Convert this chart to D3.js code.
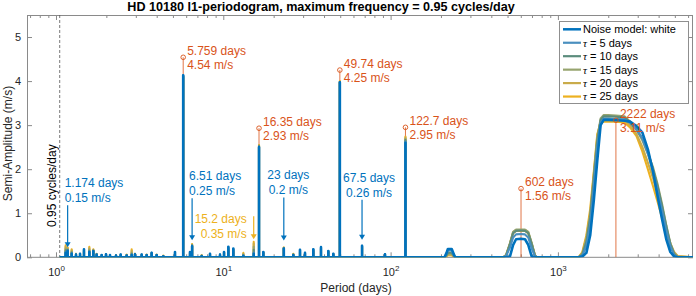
<!DOCTYPE html>
<html>
<head>
<meta charset="utf-8">
<script src="https://cdn.jsdelivr.net/npm/d3@7"></script>
<style>
  body { margin: 0; background: #fff; }
  text { font-family: "Liberation Sans", Arial, sans-serif; }
</style>
</head>
<body>
<div id="chart"></div>
<script>
// ---- data ----
const maxFreq = 0.95;
const xDomain = [0.671, 6420];
const yDomain = [0, 5.5];
const xTickValues = [1, 10, 100, 1000];
const yTickValues = [0, 1, 2, 3, 4, 5];

const seriesNames = ['Noise model: white', '5', '10', '15', '20', '25'];
const seriesColors = ['#0072BD', '#4a8fbf', '#5b8c7c', '#97a46f', '#c9ab4a', '#EDB120'];

// narrow peaks of the l1-periodogram (days)
const spikePeriods = [1.142, 1.174, 1.241, 1.317, 1.392, 1.47, 1.582, 1.672, 1.75, 1.875, 1.99, 2.103, 2.284, 2.436, 2.645, 2.834, 2.966, 3.252, 3.483, 3.731, 3.997, 4.381, 5.144,
  5.759, 6.324, 6.51, 7.427, 8.328, 9.557, 10.1, 10.72, 11.48, 13.18, 15.2,
  16.35, 17.35, 23.0, 26.22, 28.74, 30.79, 34.52, 38.37, 42.44, 45.47,
  49.74, 67.5, 92.6, 122.7];
const spikeWhite = [0.10,0.15,0.08,0.06,0.08,0.18,0.12,0.14,0.06,0.05,0.07,0.05,0.04,0.06,0.04,0.05,0.07,0.06,0.05,0.10,0.05,0.02,0.12,
  4.13, 0.12,0.25,0.03,0.08,0.06,0.12,0.24,0.20,0.03,0.08,
  2.50, 0.12,0.20,0.05,0.17,0.10,0.18,0.23,0.14,0.08,
  3.97, 0.26,0.07, 2.60];
const spikeTau5 = [0.12,0.16,0.09,0.06,0.08,0.17,0.13,0.14,0.06,0.05,0.07,0.05,0.04,0.06,0.04,0.06,0.07,0.06,0.05,0.10,0.05,0.02,0.12,
  4.13, 0.12,0.26,0.03,0.08,0.06,0.12,0.23,0.19,0.04,0.11,
  2.50, 0.12,0.20,0.05,0.17,0.10,0.18,0.22,0.14,0.08,
  3.97, 0.26,0.07, 2.63];
const spikeTau10 = [0.16,0.17,0.11,0.06,0.07,0.16,0.15,0.15,0.06,0.05,0.07,0.05,0.04,0.06,0.05,0.08,0.07,0.06,0.05,0.10,0.05,0.02,0.11,
  4.12, 0.11,0.27,0.03,0.07,0.06,0.12,0.22,0.18,0.05,0.17,
  2.52, 0.11,0.21,0.06,0.16,0.09,0.17,0.21,0.14,0.07,
  3.98, 0.26,0.07, 2.66];
const spikeTau15 = [0.20,0.19,0.13,0.07,0.07,0.15,0.18,0.16,0.07,0.04,0.06,0.04,0.05,0.05,0.05,0.11,0.08,0.05,0.05,0.09,0.05,0.03,0.09,
  4.11, 0.10,0.28,0.04,0.07,0.05,0.11,0.20,0.17,0.06,0.24,
  2.53, 0.10,0.21,0.06,0.14,0.08,0.15,0.20,0.13,0.07,
  3.98, 0.25,0.06, 2.69];
const spikeTau20 = [0.24,0.21,0.16,0.08,0.06,0.14,0.21,0.17,0.07,0.04,0.06,0.04,0.05,0.05,0.05,0.15,0.08,0.05,0.05,0.09,0.05,0.03,0.08,
  4.10, 0.09,0.29,0.04,0.06,0.05,0.11,0.18,0.15,0.08,0.31,
  2.54, 0.09,0.22,0.07,0.12,0.08,0.14,0.18,0.12,0.06,
  3.99, 0.24,0.06, 2.72];
const spikeTau25 = [0.27,0.22,0.18,0.08,0.05,0.12,0.24,0.18,0.08,0.03,0.05,0.03,0.05,0.04,0.06,0.18,0.08,0.04,0.06,0.08,0.06,0.04,0.06,
  4.10, 0.08,0.30,0.05,0.05,0.04,0.10,0.15,0.12,0.10,0.35,
  2.55, 0.08,0.22,0.08,0.10,0.06,0.12,0.15,0.10,0.05,
  4.00, 0.22,0.05, 2.74];

// broad features (~226 d, ~602 d, ~2222 d)
const humpPeriods = [210,216,220,226,232,237,243,
  470,490,517,540,562,600,636,665,697,730,750,
  1330,1400,1480,1560,1640,1720,1800,1880,2000,2222,2500,2700,2950,3200,3450,3700,3950,4200,4450,4700,4950,5200];
const humpWhite = [0,0.10,0.19,0.19,0.19,0.10,0,
  0,0,0.02,0.28,0.41,0.42,0.41,0.28,0.02,0,0,
  0,0.02,0.10,0.50,1.30,2.20,3.00,3.12,3.12,3.11,3.10,3.08,2.98,2.83,2.45,1.95,1.37,0.85,0.40,0.12,0.02,0];
const humpTau5 = [0,0.08,0.15,0.16,0.15,0.08,0,
  0,0.03,0.22,0.45,0.52,0.53,0.52,0.45,0.20,0.02,0,
  0,0.04,0.25,0.75,1.60,2.50,3.05,3.15,3.15,3.14,3.13,3.05,2.90,2.70,2.35,1.95,1.50,1.05,0.60,0.25,0.05,0];
const humpTau10 = [0,0.05,0.10,0.11,0.10,0.05,0,
  0,0.04,0.30,0.55,0.60,0.61,0.60,0.55,0.30,0.03,0,
  0,0.06,0.35,0.90,1.80,2.65,3.12,3.20,3.20,3.19,3.17,3.07,2.90,2.70,2.40,2.00,1.60,1.15,0.70,0.30,0.08,0];
const humpTau15 = [0,0.04,0.08,0.08,0.08,0.04,0,
  0,0.04,0.32,0.58,0.63,0.63,0.63,0.58,0.33,0.04,0,
  0,0.08,0.40,0.95,1.85,2.70,3.15,3.23,3.23,3.22,3.20,3.08,2.90,2.65,2.35,2.05,1.65,1.20,0.72,0.32,0.08,0];
const humpTau20 = [0,0.03,0.06,0.06,0.06,0.03,0,
  0,0.05,0.32,0.57,0.62,0.62,0.62,0.57,0.32,0.04,0,
  0,0.10,0.45,1.00,1.90,2.75,3.10,3.15,3.15,3.14,3.12,3.00,2.80,2.50,2.15,1.80,1.40,1.00,0.62,0.32,0.12,0.03];
const humpTau25 = [0,0.02,0.05,0.05,0.05,0.02,0,
  0,0.05,0.30,0.55,0.60,0.60,0.60,0.55,0.30,0.03,0,
  0,0.12,0.50,1.10,1.95,2.80,3.05,3.08,3.08,3.08,3.06,2.95,2.75,2.40,2.00,1.62,1.25,0.88,0.52,0.28,0.10,0.02];

// detected signals (marked with circles)
const signalPeriods = [5.759, 16.35, 49.74, 122.7, 602, 2222];
const signalAmps = [4.54, 2.93, 4.25, 2.95, 1.56, 3.11];

// smaller peaks pointed at with arrows
const arrowPeriods = [1.174, 6.51, 23, 67.5, 15.2];
const arrowAmps = [0.15, 0.25, 0.2, 0.26, 0.35];

// ---- layout ----
const W = 696, H = 296;
const margin = { top: 15, right: 3, bottom: 38.7, left: 27 };
const red = '#D95319';
const axisCol = '#262626';

const svg = d3.select('#chart').append('svg')
  .attr('width', W).attr('height', H)
  .style('display', 'block');

const x = d3.scaleLog().domain(xDomain).range([margin.left, W - margin.right]);
const y = d3.scaleLinear().domain(yDomain).range([H - margin.bottom, margin.top]);

svg.append('defs').append('clipPath').attr('id', 'plot')
  .append('rect')
  .attr('x', margin.left).attr('y', margin.top)
  .attr('width', W - margin.left - margin.right)
  .attr('height', H - margin.top - margin.bottom);

// axes
const minor = x.ticks().filter(d => !xTickValues.includes(d));
const y0 = y(0), yTop = margin.top;

const xb = svg.append('g').attr('transform', `translate(0,${y0})`)
  .call(d3.axisBottom(x).tickValues(xTickValues).tickSize(-5).tickPadding(11).tickFormat(() => '10'));
xb.selectAll('text').append('tspan').attr('dy', '-5').attr('font-size', 8)
  .text(d => Math.round(Math.log10(d)));
svg.append('g').attr('transform', `translate(0,${y0})`)
  .call(d3.axisBottom(x).tickValues(minor).tickSize(-3).tickFormat(''));
svg.append('g').attr('transform', `translate(0,${yTop})`)
  .call(d3.axisTop(x).tickValues(xTickValues).tickSize(-5).tickFormat(''));
svg.append('g').attr('transform', `translate(0,${yTop})`)
  .call(d3.axisTop(x).tickValues(minor).tickSize(-3).tickFormat(''));
svg.append('g').attr('transform', `translate(${margin.left},0)`)
  .call(d3.axisLeft(y).tickValues(yTickValues).tickSize(-5).tickPadding(6).tickFormat(d3.format('d')));
svg.append('g').attr('transform', `translate(${W - margin.right},0)`)
  .call(d3.axisRight(y).tickValues(yTickValues).tickSize(-5).tickFormat(''));

svg.selectAll('.domain').remove();
svg.selectAll('.tick line').attr('stroke', '#8a8a8a');
svg.selectAll('.tick text').attr('fill', axisCol).attr('font-size', 11)
  .attr('font-family', '"Liberation Sans", Arial, sans-serif');

svg.append('rect')
  .attr('x', margin.left + 0.5).attr('y', yTop + 0.5)
  .attr('width', W - margin.left - margin.right - 1)
  .attr('height', y0 - yTop - 0.5)
  .attr('fill', 'none').attr('stroke', '#8a8a8a');

// max frequency line
const fx = x(1 / maxFreq);
svg.append('line')
  .attr('x1', fx).attr('x2', fx).attr('y1', yTop).attr('y2', y0)
  .attr('stroke', '#555').attr('stroke-width', 0.8).attr('stroke-dasharray', '3,2');
svg.append('text')
  .attr('transform', `translate(${fx - 4},227) rotate(-90)`)
  .attr('font-size', 12).attr('fill', '#000')
  .text(`${maxFreq} cycles/day`);

// signal stems and labels (under the curves)
const plot = svg.append('g').attr('clip-path', 'url(#plot)');
signalPeriods.forEach((p, i) => {
  plot.append('line')
    .attr('x1', x(p)).attr('x2', x(p))
    .attr('y1', y(signalAmps[i])).attr('y2', y0)
    .attr('stroke', red).attr('stroke-width', 0.8);
  const t = svg.append('text').attr('fill', red).attr('font-size', 12);
  t.append('tspan').attr('x', x(p) + 4).attr('y', y(signalAmps[i]) - 2.5).text(`${p} days`);
  t.append('tspan').attr('x', x(p) + 4).attr('y', y(signalAmps[i]) + 11.7).text(`${signalAmps[i]} m/s`);
});

// periodogram curves
function buildSeries(spikeAmps, humpAmps) {
  const pts = [[1 / maxFreq, 0]];
  spikePeriods.forEach((p, i) => pts.push([p, 0], [p, spikeAmps[i]], [p, 0]));
  humpPeriods.forEach((p, i) => pts.push([p, humpAmps[i]]));
  pts.push([xDomain[1], 0]);
  return pts;
}

const series = [
  buildSeries(spikeWhite, humpWhite),
  buildSeries(spikeTau5, humpTau5),
  buildSeries(spikeTau10, humpTau10),
  buildSeries(spikeTau15, humpTau15),
  buildSeries(spikeTau20, humpTau20),
  buildSeries(spikeTau25, humpTau25)
];

const line = d3.line().x(d => x(d[0])).y(d => y(d[1]));

// white noise model drawn last so it sits on top
for (let i = series.length - 1; i >= 0; i--) {
  plot.append('path')
    .attr('d', line(series[i]))
    .attr('fill', 'none')
    .attr('stroke', seriesColors[i])
    .attr('stroke-width', i === 0 ? 2.6 : 2.1)
    .attr('stroke-linejoin', 'round');
}

// signal markers
svg.selectAll('.sig').data(signalPeriods).enter().append('circle')
  .attr('class', 'sig')
  .attr('cx', d => x(d))
  .attr('cy', (d, i) => y(signalAmps[i]))
  .attr('r', 2.3)
  .attr('fill', 'none').attr('stroke', red).attr('stroke-width', 0.9);

// arrows
const arrowCfg = [
  { col: '#0072BD', gap: 3.5, len: 42, anchor: 'start', dx: -3 },
  { col: '#0072BD', gap: 6, len: 42, anchor: 'start', dx: -3 },
  { col: '#0072BD', gap: 8, len: 43, anchor: 'middle', dx: 4.5 },
  { col: '#0072BD', gap: 6, len: 40, anchor: 'middle', dx: 7 },
  { col: '#EDB120', gap: 2.6, len: 23, anchor: 'end', dx: -7, side: true }
];
arrowPeriods.forEach((p, i) => {
  const c = arrowCfg[i];
  const ax = x(p), tip = y(arrowAmps[i]) - c.gap, tail = tip - c.len;
  svg.append('line').attr('x1', ax).attr('x2', ax).attr('y1', tail).attr('y2', tip - 4)
    .attr('stroke', c.col).attr('stroke-width', 1.2);
  svg.append('path')
    .attr('d', `M${ax - 3},${tip - 5}L${ax + 3},${tip - 5}L${ax},${tip}Z`)
    .attr('fill', c.col);
  const b1 = c.side ? tail + 7 : tail - 18;
  const t = svg.append('text').attr('fill', c.col).attr('font-size', 12).attr('text-anchor', c.anchor);
  t.append('tspan').attr('x', ax + c.dx).attr('y', b1).text(`${p} days`);
  t.append('tspan').attr('x', ax + c.dx).attr('y', b1 + 15).text(`${arrowAmps[i]} m/s`);
});

// labels
svg.append('text')
  .attr('x', 321).attr('y', 10.5)
  .attr('text-anchor', 'middle').attr('font-weight', 'bold').attr('font-size', 12.6)
  .attr('fill', '#000')
  .text('HD 10180 l1-periodogram, maximum frequency = 0.95 cycles/day');
svg.append('text')
  .attr('x', 356).attr('y', 292)
  .attr('text-anchor', 'middle').attr('font-size', 12).attr('fill', axisCol)
  .text('Period (days)');
svg.append('text')
  .attr('transform', 'translate(11.5,143.5) rotate(-90)')
  .attr('text-anchor', 'middle').attr('font-size', 12).attr('fill', axisCol)
  .text('Semi-Amplitude (m/s)');

// legend
const lg = svg.append('g').attr('transform', 'translate(559,21)');
lg.append('rect').attr('x', 0.5).attr('y', 0.5).attr('width', 129).attr('height', 82)
  .attr('fill', '#fff').attr('stroke', '#8f8f8f');
seriesNames.forEach((name, i) => {
  const ry = 8.3 + i * 13.45;
  lg.append('line').attr('x1', 4).attr('x2', 22).attr('y1', ry).attr('y2', ry)
    .attr('stroke', seriesColors[i]).attr('stroke-width', i === 0 ? 2.5 : 2.2);
  const t = lg.append('text').attr('x', 24).attr('y', ry).attr('dy', '0.35em')
    .attr('font-size', 11).attr('fill', '#000');
  if (i === 0) {
    t.text(name);
  } else {
    t.append('tspan').attr('font-family', '"Liberation Serif", serif').attr('font-style', 'italic').text('τ');
    t.append('tspan').text(` = ${name} days`);
  }
});
</script>
</body>
</html>
